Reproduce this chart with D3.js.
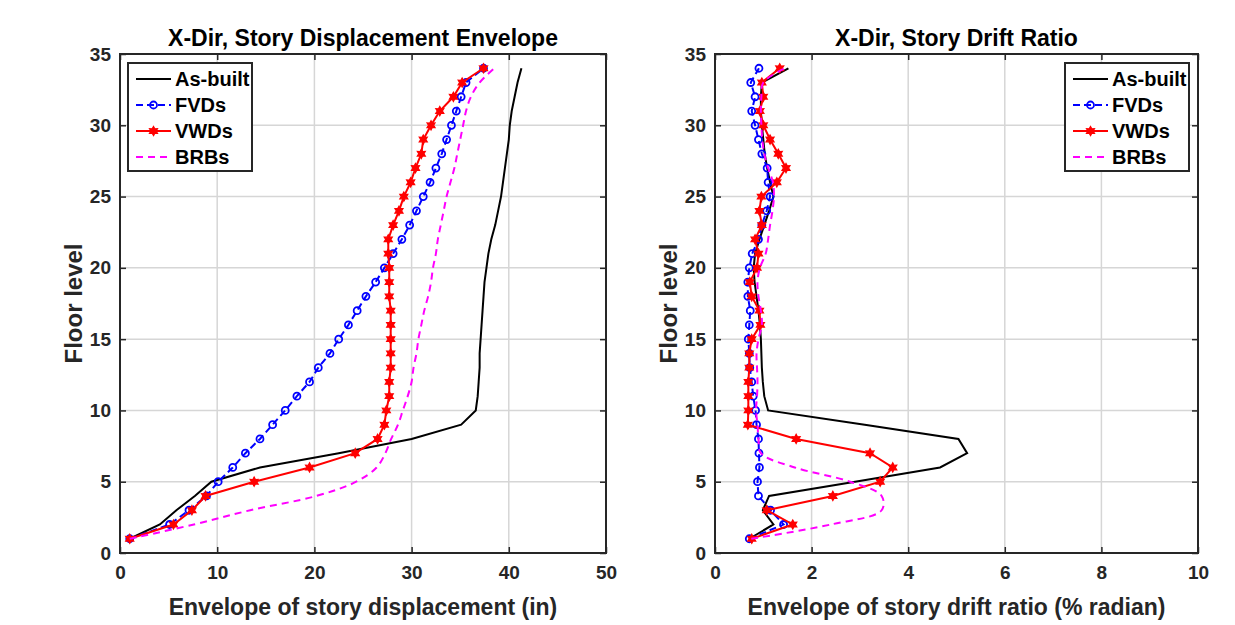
<!DOCTYPE html>
<html>
<head>
<meta charset="utf-8">
<script src="https://cdn.jsdelivr.net/npm/d3@7/dist/d3.min.js"></script>
<style>
  body { margin: 0; background: #fff; }
  text { font-family: "Liberation Sans", Arial, Helvetica, sans-serif; font-weight: bold; }
</style>
</head>
<body>
<svg id="fig" width="1235" height="625"></svg>
<script>
var floors = [1,2,3,4,5,6,7,8,9,10,11,12,13,14,15,16,17,18,19,20,21,22,23,24,25,26,27,28,29,30,31,32,33,34];

// story displacement envelope (in)
var dispAsBuilt = [1.0,4.1,5.8,7.7,9.4,14.4,22.5,30.0,35.1,36.6,36.8,36.9,37.0,37.0,37.1,37.2,37.3,37.4,37.5,37.7,37.9,38.2,38.6,38.9,39.2,39.4,39.6,39.8,40.0,40.1,40.3,40.6,40.9,41.3];
var dispFVD = [1.0,5.1,7.1,8.9,10.1,11.6,12.9,14.4,15.7,17.0,18.2,19.5,20.4,21.6,22.5,23.5,24.4,25.3,26.3,27.2,28.1,29.0,29.8,30.5,31.2,31.9,32.5,33.1,33.6,34.1,34.6,35.1,35.6,37.4];
var dispVWD = [1.0,5.5,7.4,8.8,13.8,19.5,24.2,26.5,27.2,27.4,27.7,27.7,27.85,27.85,27.85,27.85,27.85,27.7,27.7,27.7,27.6,27.6,28.1,28.7,29.2,29.9,30.4,31.0,31.2,32.0,32.9,34.3,35.2,37.4];
var dispBRB = [1.0,7.6,13.4,20.2,24.3,26.4,27.3,27.9,28.6,29.1,29.6,30.0,30.2,30.5,30.7,31.0,31.3,31.7,32.0,32.2,32.5,32.7,33.0,33.3,33.6,34.0,34.4,34.7,35.0,35.3,35.6,36.1,37.0,38.5];

// story drift ratio (% radian)
var driftAsBuilt = [0.71,1.21,0.99,1.12,2.9,4.66,5.22,5.04,3.1,1.10,1.02,0.99,0.97,0.96,0.95,0.93,0.90,0.86,0.82,0.80,0.83,0.92,1.02,1.12,1.21,1.14,1.08,1.03,1.00,0.97,0.95,0.95,0.97,1.52];
var driftFVD = [0.71,1.42,1.15,0.90,0.88,0.92,0.91,0.90,0.86,0.84,0.79,0.76,0.72,0.71,0.69,0.71,0.73,0.68,0.68,0.71,0.77,0.90,0.97,1.07,1.14,1.10,1.08,0.97,0.90,0.83,0.76,0.83,0.74,0.91];
var driftVWD = [0.76,1.61,1.07,2.44,3.42,3.68,3.21,1.68,0.68,0.69,0.69,0.69,0.71,0.71,0.76,0.94,0.92,0.76,0.72,0.87,0.90,0.83,0.97,0.92,0.96,1.28,1.47,1.31,1.14,1.00,0.93,1.00,0.97,1.34];
var driftBRB = [0.75,2.4,3.45,3.45,2.8,1.65,0.95,0.90,0.88,0.85,0.87,0.88,0.87,0.86,0.90,0.97,0.95,0.90,0.88,0.93,1.05,1.10,1.14,1.19,1.22,1.20,1.10,1.02,0.98,0.96,0.95,0.96,1.00,1.45];

var seriesNames = ["As-built", "FVDs", "VWDs", "BRBs"];
var dispTicks = [0,10,20,30,40,50];
var driftTicks = [0,2,4,6,8,10];
var floorTicks = [0,5,10,15,20,25,30,35];

var svg = d3.select("#fig");
svg.append("rect").attr("width", 1235).attr("height", 625).attr("fill", "#fff");

var top_ = 54, bottom_ = 553;
var y = d3.scaleLinear().domain([0, 35]).range([bottom_, top_]);

var styles = [
  {color: "#000000", dash: null, marker: null},
  {color: "#0000ff", dash: "7,4", marker: "circle"},
  {color: "#ff0000", dash: null, marker: "star"},
  {color: "#ff00ff", dash: "7,5", marker: null}
];

// six-pointed filled marker, like the matlab one
var starPath = "M0,4.6L1.3,2.2L4,2.3L2.6,0L4,-2.3L1.3,-2.2L0,-4.6L-1.3,-2.2L-4,-2.3L-2.6,0L-4,2.3L-1.3,2.2Z";

function drawPanel(cfg) {
  var x = d3.scaleLinear().domain(cfg.domain).range([cfg.left, cfg.right]);
  var g = svg.append("g");
  var w = cfg.right - cfg.left, h = bottom_ - top_;

  // grid
  g.selectAll(".gx").data(cfg.xticks).enter().append("line")
    .attr("x1", function(d){return x(d);}).attr("x2", function(d){return x(d);})
    .attr("y1", top_).attr("y2", bottom_)
    .attr("stroke", "#d6d6d6").attr("stroke-width", 1.5);
  g.selectAll(".gy").data(floorTicks).enter().append("line")
    .attr("x1", cfg.left).attr("x2", cfg.right)
    .attr("y1", function(d){return y(d);}).attr("y2", function(d){return y(d);})
    .attr("stroke", "#d6d6d6").attr("stroke-width", 1.5);

  // axes with inward ticks
  g.append("g").attr("transform", "translate(0," + bottom_ + ")")
    .call(d3.axisBottom(x).tickValues(cfg.xticks).tickSize(-6).tickPadding(13).tickSizeOuter(0));
  g.append("g").attr("transform", "translate(" + cfg.left + ",0)")
    .call(d3.axisLeft(y).tickValues(floorTicks).tickSize(-6).tickPadding(9).tickSizeOuter(0));
  g.append("g").attr("transform", "translate(0," + top_ + ")")
    .call(d3.axisTop(x).tickValues(cfg.xticks).tickSize(-6).tickFormat("").tickSizeOuter(0));
  g.append("g").attr("transform", "translate(" + cfg.right + ",0)")
    .call(d3.axisRight(y).tickValues(floorTicks).tickSize(-6).tickFormat("").tickSizeOuter(0));
  g.selectAll(".domain").remove();
  g.selectAll(".tick line").attr("stroke", "#262626").attr("stroke-width", 1.5);
  g.selectAll(".tick text").attr("fill", "#262626").style("font-size", "19px");

  // series
  var line = d3.line().x(function(d){return x(d[0]);}).y(function(d){return y(d[1]);});
  var smooth = d3.line().curve(d3.curveCatmullRom).x(function(d){return x(d[0]);}).y(function(d){return y(d[1]);});
  var plot = g.append("g");
  cfg.series.forEach(function(vals, i) {
    var st = styles[i];
    var pts = vals.map(function(v, k){return [v, floors[k]];});
    plot.append("path").datum(pts)
      .attr("d", i == 3 ? smooth : line)
      .attr("fill", "none").attr("stroke", st.color).attr("stroke-width", 2)
      .attr("stroke-dasharray", st.dash);
    if (st.marker == "circle") {
      plot.selectAll(".c" + i).data(pts).enter().append("circle")
        .attr("cx", function(d){return x(d[0]);}).attr("cy", function(d){return y(d[1]);})
        .attr("r", 3.5).attr("fill", "none").attr("stroke", st.color).attr("stroke-width", 1.8);
    }
    if (st.marker == "star") {
      plot.selectAll(".t" + i).data(pts).enter().append("path")
        .attr("d", starPath)
        .attr("transform", function(d){return "translate(" + x(d[0]) + "," + y(d[1]) + ")";})
        .attr("fill", st.color).attr("stroke", st.color).attr("stroke-width", 1.2);
    }
  });

  // box
  g.append("rect").attr("x", cfg.left).attr("y", top_).attr("width", w).attr("height", h)
    .attr("fill", "none").attr("stroke", "#262626").attr("stroke-width", 2);

  // texts
  g.append("text").attr("x", (cfg.left + cfg.right) / 2).attr("y", 46)
    .attr("text-anchor", "middle").style("font-size", "23px").attr("fill", "#000").text(cfg.title);
  g.append("text").attr("x", (cfg.left + cfg.right) / 2).attr("y", 615)
    .attr("text-anchor", "middle").style("font-size", "23px").attr("fill", "#262626").text(cfg.xlabel);
  g.append("text").attr("transform", "translate(" + (cfg.left - 38) + "," + ((top_ + bottom_) / 2) + ") rotate(-90)")
    .attr("text-anchor", "middle").style("font-size", "24px").attr("fill", "#262626").text("Floor level");

  // legend
  var lg = g.append("g").attr("transform", "translate(" + cfg.legend[0] + "," + cfg.legend[1] + ")");
  lg.append("rect").attr("width", 124).attr("height", 108).attr("fill", "#fff")
    .attr("stroke", "#262626").attr("stroke-width", 2);
  seriesNames.forEach(function(name, i) {
    var st = styles[i], yy = 16 + i * 26;
    lg.append("line").attr("x1", 8).attr("x2", 43).attr("y1", yy).attr("y2", yy)
      .attr("stroke", st.color).attr("stroke-width", 2).attr("stroke-dasharray", st.dash);
    if (st.marker == "circle")
      lg.append("circle").attr("cx", 25.5).attr("cy", yy).attr("r", 3.5)
        .attr("fill", "none").attr("stroke", st.color).attr("stroke-width", 1.8);
    if (st.marker == "star")
      lg.append("path").attr("d", starPath)
        .attr("transform", "translate(25.5," + yy + ")")
        .attr("fill", st.color).attr("stroke", st.color).attr("stroke-width", 1.2);
    lg.append("text").attr("x", 47).attr("y", yy + 7).style("font-size", "20px")
      .attr("fill", "#000").text(name);
  });
}

drawPanel({
  left: 120, right: 606, domain: [0, 50], xticks: dispTicks,
  title: "X-Dir, Story Displacement Envelope",
  xlabel: "Envelope of story displacement (in)",
  series: [dispAsBuilt, dispFVD, dispVWD, dispBRB],
  legend: [128, 63]
});
drawPanel({
  left: 715, right: 1198, domain: [0, 10], xticks: driftTicks,
  title: "X-Dir, Story Drift Ratio",
  xlabel: "Envelope of story drift ratio (% radian)",
  series: [driftAsBuilt, driftFVD, driftVWD, driftBRB],
  legend: [1065, 63]
});
</script>
</body>
</html>
